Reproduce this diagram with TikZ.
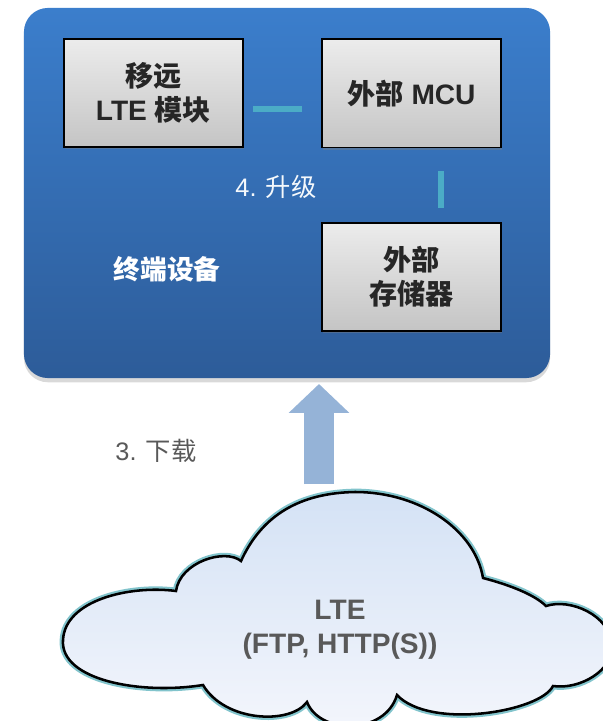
\documentclass[tikz,border=0pt]{standalone}
\usepackage{fontspec}
\setmainfont{Liberation Sans}
\newfontfamily\cjk{Noto Sans CJK SC}
\usetikzlibrary{arrows.meta,shadows}

\definecolor{devtop}{RGB}{59,126,204}
\definecolor{devbottom}{RGB}{45,92,153}
\definecolor{linkteal}{RGB}{75,172,198}
\definecolor{dlblue}{RGB}{149,179,215}
\definecolor{cloudtop}{RGB}{212,226,245}
\definecolor{cloudbottom}{RGB}{244,246,252}
\definecolor{cloudrim}{RGB}{130,196,204}
\definecolor{textgray}{RGB}{89,89,89}

\tikzset{
  device/.style={rounded corners=0.6cm,top color=devtop,bottom color=devbottom,
    minimum width=13.15cm,minimum height=9.25cm,
    drop shadow={shadow xshift=0pt,shadow yshift=-3pt,opacity=0.3}},
  module/.style={draw=black,line width=1.4pt,top color=gray!15,bottom color=gray!46,
    minimum width=4.475cm,minimum height=2.7cm,align=center,text=black!85,
    font=\fontsize{20}{24}\selectfont\bfseries,
    drop shadow={shadow xshift=0.8pt,shadow yshift=-1.5pt,opacity=0.4}},
  link/.style={linkteal,line width=4.3pt},
  dlarrow/.style={dlblue,line width=21pt,-{Triangle[length=20.6pt,width=42pt]}},
  steplabel/.style={font=\fontsize{18}{22}\selectfont},
}

\begin{document}
\begin{tikzpicture}[x=0.025cm,y=-0.025cm]
\useasboundingbox (0,0) rectangle (603,721);
\clip (0,0) rectangle (603,721);

% Terminal device
\node[device] (terminal) at (287,193) {};
\node[module] (lte) at (153.5,93) {{\cjk 移远}\\LTE {\cjk 模块}};
\node[module] (mcu) at (411.5,93.5) {{\cjk 外部} MCU};
\node[module] (mem) at (411.5,277) {{\cjk 外部}\\{\cjk 存储器}};
\node[white,font=\fontsize{19}{23}\selectfont\bfseries\cjk] (devlabel) at (167,269) {终端设备};

% Links
\coordinate (hA) at (253,109);
\coordinate (hB) at (302,109);
\coordinate (vA) at (441,171);
\coordinate (vB) at (441,208);
\draw[link] (hA) -- (hB);
\draw[link] (vA) -- (vB);
\node[steplabel,white!95!devtop] (upgrade) at (276,187) {4. {\cjk 升级}};

% Download
\coordinate (dlfoot) at (319,484);
\coordinate (dltip) at (319,384);
\draw[dlarrow] (dlfoot) -- (dltip);
\node[steplabel,textgray] (download) at (156,451) {3. {\cjk 下载}};

% Cloud
\draw[black,line width=1.8pt,top color=cloudtop,bottom color=cloudbottom,
  preaction={draw=cloudrim,line width=4.8pt}]
  (176,591) .. controls (180,562) and (225,548) .. (241,561)
  .. controls (262,515) and (300,493) .. (355,492)
  .. controls (420,492) and (475,530) .. (483,578)
  .. controls (510,585) and (535,595) .. (546,606)
  .. controls (570,598) and (610,615) .. (612,645)
  .. controls (614,670) and (580,690) .. (553,686)
  .. controls (540,712) and (430,730) .. (397,695)
  .. controls (385,735) and (320,735) .. (307,702)
  .. controls (290,725) and (225,722) .. (203,685)
  .. controls (140,695) and (60,680) .. (63,640)
  .. controls (65,600) and (130,585) .. (176,591) -- cycle;
\node[align=center,textgray,font=\fontsize{20}{24}\selectfont\bfseries] (network) at (340,630) {LTE\\(FTP, HTTP(S))};
\end{tikzpicture}
\end{document}
